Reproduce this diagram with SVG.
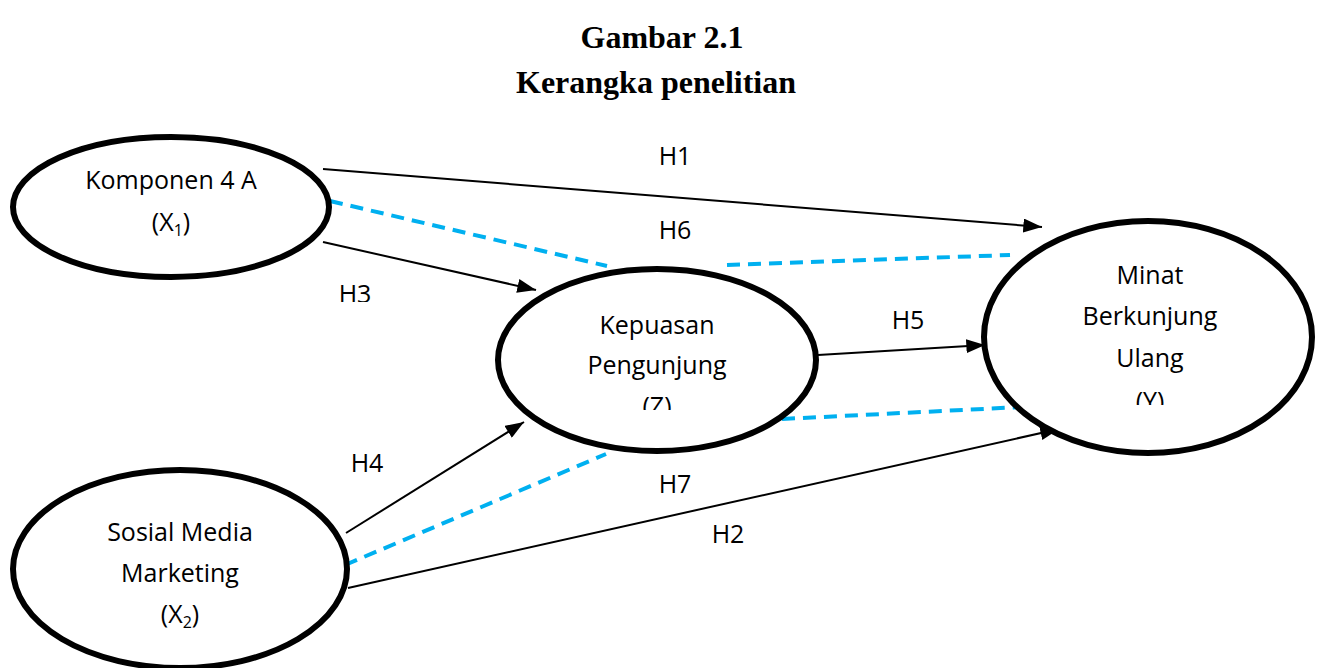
<svg xmlns="http://www.w3.org/2000/svg" width="1320" height="668" viewBox="0 0 1320 668">
<style>
.title{font-family:"Liberation Serif","Times New Roman",serif;font-weight:bold;font-size:32px;fill:#000;text-anchor:middle}
.lbl{font-family:"Open Sans","Liberation Sans",sans-serif;font-size:25px;fill:#000;text-anchor:middle}
.sub{font-size:16px}
.node{fill:#fff;stroke:#000;stroke-width:6}
.arr{stroke:#000;stroke-width:2;fill:none;marker-end:url(#ah)}
.dash{stroke:#00B0F0;stroke-width:4;stroke-dasharray:13 8;fill:none}
</style>
<defs>
<marker id="ah" viewBox="0 0 12 9" refX="12" refY="4.5" markerWidth="9.5" markerHeight="7" markerUnits="strokeWidth" orient="auto">
<path d="M0,0 L12,4.5 L0,9 z" fill="#000"/>
</marker>
<clipPath id="clipZ"><rect x="560" y="300" width="200" height="110"/></clipPath>
<clipPath id="clipY"><rect x="1050" y="250" width="200" height="155"/></clipPath>
<clipPath id="clipH3"><rect x="330" y="270" width="60" height="32"/></clipPath>
<clipPath id="clipH5"><rect x="880" y="300" width="60" height="30"/></clipPath>
</defs>
<rect width="1320" height="668" fill="#fff"/>
<g id="title">
<text class="title" x="662" y="48">Gambar 2.1</text>
<text class="title" x="656" y="93">Kerangka penelitian</text>
</g>
<g id="connectors">
<line class="arr" x1="323" y1="169" x2="1042" y2="227"/>
<line class="dash" x1="330" y1="201" x2="607" y2="266"/>
<line class="dash" x1="727" y1="265" x2="1010" y2="255"/>
<line class="arr" x1="323" y1="242" x2="536" y2="290"/>
<line class="arr" x1="818" y1="355" x2="985" y2="345"/>
<line class="dash" x1="782" y1="419" x2="1022" y2="407"/>
<line class="dash" x1="345" y1="565" x2="606" y2="454"/>
<line class="arr" x1="346" y1="533" x2="524" y2="422"/>
<line class="arr" x1="348" y1="588" x2="1059" y2="429"/>
<text class="lbl" x="675" y="165">H1</text>
<text class="lbl" x="675" y="239">H6</text>
<text class="lbl" x="355" y="303" clip-path="url(#clipH3)">H3</text>
<text class="lbl" x="908" y="329" clip-path="url(#clipH5)">H5</text>
<text class="lbl" x="367" y="472">H4</text>
<text class="lbl" x="675" y="493">H7</text>
<text class="lbl" x="728" y="543">H2</text>
</g>
<g id="node-x1">
<ellipse class="node" cx="171" cy="207" rx="158" ry="70"/>
<text class="lbl" x="171" y="189">Komponen 4 A</text>
<text class="lbl" x="171" y="231">(X<tspan class="sub" dy="5">1</tspan><tspan dy="-5">)</tspan></text>
</g>
<g id="node-z">
<ellipse class="node" cx="657" cy="360" rx="159" ry="91"/>
<g clip-path="url(#clipZ)">
<text class="lbl" x="657" y="334">Kepuasan</text>
<text class="lbl" x="657" y="374">Pengunjung</text>
<text class="lbl" x="657" y="415">(Z)</text>
</g>
</g>
<g id="node-y">
<ellipse class="node" cx="1148" cy="337" rx="164" ry="116"/>
<g clip-path="url(#clipY)">
<text class="lbl" x="1150" y="284">Minat</text>
<text class="lbl" x="1150" y="325">Berkunjung</text>
<text class="lbl" x="1150" y="367">Ulang</text>
<text class="lbl" x="1150" y="410">(Y)</text>
</g>
</g>
<g id="node-x2">
<ellipse class="node" cx="180" cy="569" rx="167" ry="99"/>
<text class="lbl" x="180" y="541">Sosial Media</text>
<text class="lbl" x="180" y="582">Marketing</text>
<text class="lbl" x="180" y="623">(X<tspan class="sub" dy="5">2</tspan><tspan dy="-5">)</tspan></text>
</g>
</svg>
